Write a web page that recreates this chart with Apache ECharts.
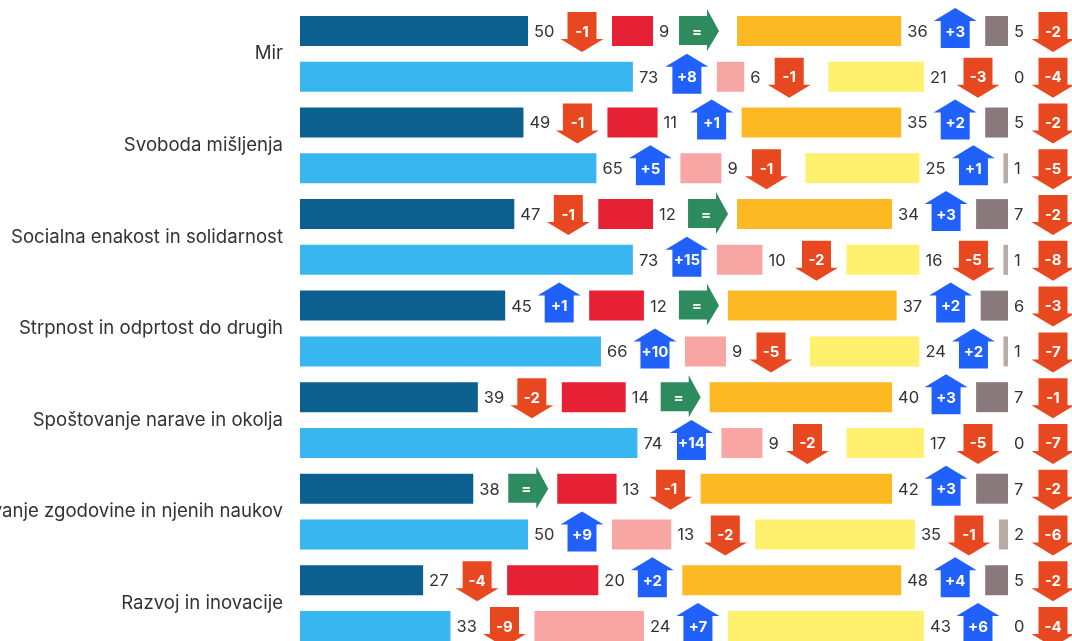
<!DOCTYPE html>
<html>
<head>
<meta charset="utf-8">
<style>html,body{margin:0;padding:0;background:#fff}#c{width:1072px;height:641px;overflow:hidden}</style>
<script src="https://cdn.jsdelivr.net/npm/echarts@6/dist/echarts.min.js"></script>
</head>
<body>
<div id="c"></div>
<script>
const groups = ["Mir","Svoboda mišljenja","Socialna enakost in solidarnost","Strpnost in odprtost do drugih","Spoštovanje narave in okolja","Poznavanje zgodovine in njenih naukov","Razvoj in inovacije"];
const valuesA = [[50,73],[49,65],[47,73],[45,66],[39,74],[38,50],[27,33]];
const valuesB = [[9,6],[11,9],[12,10],[12,9],[14,9],[13,13],[20,24]];
const valuesC = [[36,21],[35,25],[34,16],[37,24],[40,17],[42,35],[48,43]];
const valuesD = [[5,0],[5,1],[7,1],[6,1],[7,0],[7,2],[5,0]];
const deltasA = [[-1,8],[-1,5],[-1,15],[1,10],[-2,14],[0,9],[-4,-9]];
const deltasB = [[0,-1],[1,-1],[0,-2],[0,-5],[0,-2],[-1,-2],[2,7]];
const deltasC = [[3,-3],[2,1],[3,-5],[2,2],[3,-5],[3,-1],[4,6]];
const deltasD = [[-2,-4],[-2,-5],[-2,-8],[-3,-7],[-1,-7],[-2,-6],[-2,-4]];
const colorsA = ["#0b6090","#38b6f0"];
const colorsB = ["#e62135","#f7a6a4"];
const colorsC = ["#fdb924","#fff06d"];
const colorsD = ["#8a797c","#b8aca6"];
const arrowColors = {up:"#2060fb",down:"#e8481f",same:"#2e8b5d"};
const GAP = 84/4.56;

const FONT = 'Inter, sans-serif';
const rows = [];
groups.forEach((g,i)=>{rows.push(g+" 1");rows.push(g+" 2");});
const flat = a => a.flat();
const stacks = [valuesA,valuesB,valuesC,valuesD];
const deltas = [deltasA,deltasB,deltasC,deltasD];
const colors = [colorsA,colorsB,colorsC,colorsD];

const series = [];
stacks.forEach((vals,k)=>{
  series.push({
    type:'bar',stack:'s',yAxisIndex:1,barWidth:30,barMinHeight:k===3?1:0,
    animation:false,silent:true,
    label:{show:true,position:'right',distance:6,offset:[0,1],color:'#333',fontFamily:FONT,fontSize:16.5},
    data:flat(vals).map((v,i)=>({value:v,itemStyle:{color:colors[k][i%2]}}))
  });
  if(k<3) series.push({
    type:'bar',stack:'s',yAxisIndex:1,barWidth:30,silent:true,animation:false,
    itemStyle:{color:'transparent'},label:{show:false},
    data:flat(vals).map(()=>GAP)
  });
});

const arrowData = [];
rows.forEach((r,i)=>{
  let acc = 0;
  stacks.forEach((vals,k)=>{
    const v = flat(vals)[i];
    acc += v;
    arrowData.push([acc, i, flat(deltas[k])[i], v>=10?1:0]);
    acc += GAP;
  });
});

function renderArrow(params, api){
  const p = api.coord([api.value(0), api.value(1)]);
  const d = api.value(2);
  let cx = p[0] + (api.value(3) ? 54 : 45);
  const cy = p[1];
  let pts, tx = cx, col;
  if(d>0){
    col = arrowColors.up;
    pts = [[cx,cy-23],[cx+21.5,cy-10],[cx+14.5,cy-10],[cx+14.5,cy+17],[cx-14.5,cy+17],[cx-14.5,cy-10],[cx-21.5,cy-10]];
  } else if(d<0){
    col = arrowColors.down;
    pts = [[cx-14.5,cy-19],[cx+14.5,cy-19],[cx+14.5,cy+8],[cx+21.5,cy+8],[cx,cy+21],[cx-21.5,cy+8],[cx-14.5,cy+8]];
  } else {
    col = arrowColors.same;
    cx += 1;
    pts = [[cx-20,cy-15],[cx+8,cy-15],[cx+8,cy-22],[cx+20,cy],[cx+8,cy+20],[cx+8,cy+14],[cx-20,cy+14]];
    tx = cx-2;
  }
  return {type:'group',children:[
    {type:'polygon',shape:{points:pts},style:{fill:col}},
    {type:'text',style:{text:d>0?'+'+d:(d<0?'-'+(-d):'='),x:tx,y:cy+1,fill:'#fff',align:'center',verticalAlign:'middle',font:'bold 15px '+FONT}}
  ]};
}
series.push({type:'custom',yAxisIndex:1,clip:false,silent:true,animation:false,z:5,
  encode:{x:0,y:1},renderItem:renderArrow,data:arrowData});

const chart = echarts.init(document.getElementById('c'),null,{renderer:'canvas'});
chart.setOption({
  animation:false,
  backgroundColor:'#fff',
  grid:{left:300,top:8.1,width:708,height:640.8,containLabel:false,outerBoundsMode:'none'},
  xAxis:{type:'value',min:0,max:100+3*GAP,show:false},
  yAxis:[
    {type:'category',inverse:true,data:groups,axisLine:{show:false},axisTick:{show:false},splitLine:{show:false},
     axisLabel:{margin:17,color:'#333',fontFamily:FONT,fontSize:18.6,align:'right',interval:0,padding:[6,0,0,0]}},
    {type:'category',inverse:true,data:rows,show:false}
  ],
  series
});
</script>
</body>
</html>
